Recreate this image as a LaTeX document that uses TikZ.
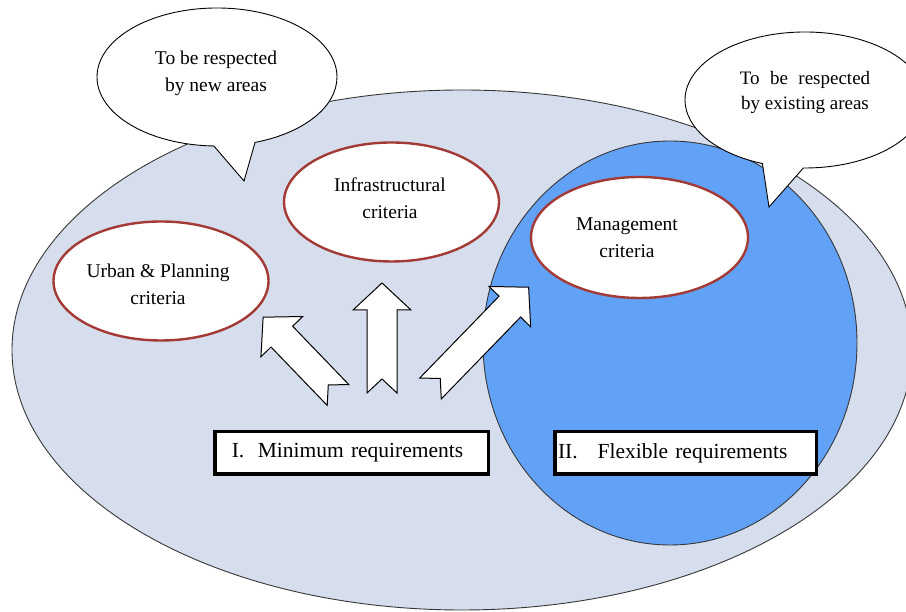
\documentclass[tikz,border=0pt]{standalone}
\usepackage{fontspec}
\setmainfont{Liberation Serif}
\usetikzlibrary{shapes.geometric,shapes.callouts}
\definecolor{outerfill}{RGB}{214,222,237}
\definecolor{innerfill}{RGB}{97,161,246}
\definecolor{critred}{RGB}{163,58,54}
\definecolor{edgegray}{RGB}{55,55,55}
\newcommand\drawblockarrow[3]{%
  \begin{scope}[shift={#1}, rotate=#2]
    \draw[blockarrow] (0,-15) -- (#3-27,-15) -- (#3-27,-29) -- (#3,0) -- (#3-27,29) -- (#3-27,15) -- (0,15) -- (14,0) -- cycle;
  \end{scope}}
\begin{document}
\begin{tikzpicture}[x=1pt,y=1pt,
  zone/.style={ellipse, draw=edgegray, line width=0.9pt, inner sep=0pt},
  crit/.style={ellipse, draw=critred, line width=2.4pt, fill=white, minimum width=215, minimum height=119, inner sep=0pt},
  txt/.style={align=center, inner sep=0pt, font=\fontsize{19.5}{27}\selectfont},
  bubble/.style={ellipse callout, draw=black, line width=0.9pt, fill=white, inner sep=0pt, callout pointer arc=20},
  reqbox/.style={draw=black, line width=3.5pt, fill=white, minimum height=42.5, align=left, font=\fontsize{21.5}{26}\selectfont},
  blockarrow/.style={draw=black, line width=1pt, fill=white, line join=miter}
]
\useasboundingbox (0,0) rectangle (906,612);
\fill[white] (0,0) rectangle (906,612);
\clip (0,0) rectangle (906,612);

% zones
\node[zone, fill=outerfill, minimum width=900, minimum height=520] (outer) at (462,262) {};
\node[zone, fill=innerfill, minimum width=374, minimum height=404] (inner) at (670,269) {};

% criteria
\node[crit] (urban) at (161,331) {};
\node[txt] (urbantxt) at (158,327.5) {Urban \& Planning\\criteria};
\node[crit] (infra) at (391.5,410) {};
\node[txt] (infratxt) at (390,414) {Infrastructural\\criteria};
\node[crit, minimum width=217, minimum height=121] (mgmt) at (639.5,374.5) {};
\node[txt] (mgmttxt) at (627,374) {Management\\criteria};

% block arrows
\coordinate (tailL) at (338,217);
\coordinate (tailU) at (382,219);
\coordinate (tailR) at (430.5,223.5);
\drawblockarrow{(tailL)}{133.9}{108}
\drawblockarrow{(tailU)}{90}{110}
\drawblockarrow{(tailR)}{45.9}{141}

% requirement boxes
\node[reqbox, text width=239.5, inner xsep=17] (minreq) at (351.5,159) {I.\hspace{0.63em}Minimum requirements};
\node[reqbox, text width=255, inner xsep=3.25] (flexreq) at (685.5,159) {II.\hspace{0.93em}Flexible requirements};

% speech bubbles
\node[bubble, minimum width=240, minimum height=138, callout absolute pointer={(244,431)}] (newb) at (217,535) {};
\node[txt] (newtxt) at (216,539) {To be respected\\by new areas};
\node[bubble, minimum width=240, minimum height=136, callout absolute pointer={(769,405)}] (existb) at (805,512) {};
\node[txt, font=\fontsize{19}{25}\selectfont] (existtxt) at (805,520) {To\hspace{0.55em}be\hspace{0.55em}respected\\by existing areas};
\end{tikzpicture}
\end{document}
